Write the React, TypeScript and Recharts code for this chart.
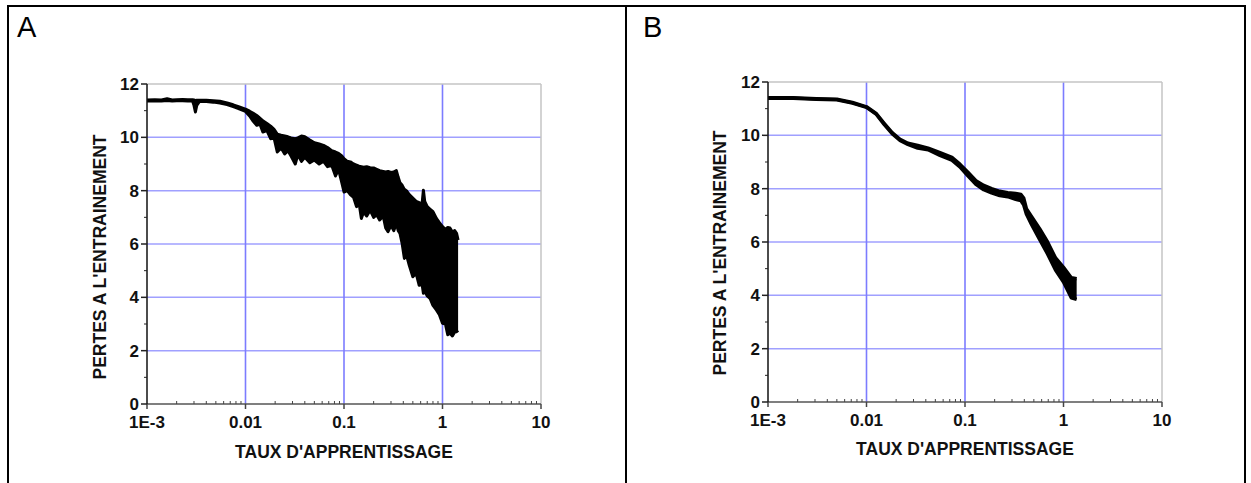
import { Area, CartesianGrid, ComposedChart, ReferenceLine, XAxis, YAxis } from 'recharts'

// Panel A : taux d'apprentissage / pertes (bande bruitée : bord haut et bord bas)
const lrA = [
  0.001, 0.0012, 0.0014, 0.0016, 0.0018, 0.002, 0.0023, 0.0026, 0.0029, 0.003,
  0.0031, 0.0032, 0.0034, 0.004, 0.0047, 0.0055, 0.0065, 0.0075, 0.0085, 0.01,
  0.011, 0.012, 0.013, 0.014, 0.015, 0.0165, 0.018, 0.0195, 0.021, 0.023,
  0.025, 0.027, 0.029, 0.032, 0.034, 0.037, 0.04, 0.045, 0.05, 0.056,
  0.062, 0.068, 0.075, 0.082, 0.088, 0.095, 0.1, 0.108, 0.116, 0.125,
  0.134, 0.142, 0.15, 0.158, 0.17, 0.184, 0.2, 0.215, 0.23, 0.25,
  0.265, 0.28, 0.3, 0.32, 0.34, 0.355, 0.37, 0.39, 0.41, 0.43,
  0.46, 0.5, 0.54, 0.58, 0.62, 0.64, 0.66, 0.7, 0.75, 0.8,
  0.87, 0.93, 1.0, 1.07, 1.13, 1.19, 1.26, 1.33, 1.39, 1.44,
]
const highA = [
  11.4, 11.41, 11.4, 11.45, 11.4, 11.41, 11.42, 11.41, 11.41, 11.4,
  11.38, 11.39, 11.39, 11.39, 11.37, 11.35, 11.29, 11.22, 11.15, 11.06,
  10.98, 10.9, 10.82, 10.72, 10.62, 10.52, 10.42, 10.3, 10.12, 10.08,
  10.05, 10.02, 9.98, 9.95, 9.98, 10.05, 10.02, 9.9, 9.8, 9.75,
  9.7, 9.62, 9.5, 9.45, 9.4, 9.3, 9.2, 9.1, 9.08, 9.0,
  8.96, 8.92, 8.9, 8.88, 8.9, 8.86, 8.85, 8.8, 8.75, 8.72,
  8.7, 8.72, 8.68, 8.7, 8.75, 8.5, 8.3, 8.2, 8.05, 8.0,
  7.85, 7.72, 7.6, 7.55, 7.5, 8.02, 7.6, 7.4, 7.3, 7.21,
  6.95, 6.8, 6.65, 6.55, 6.62, 6.6, 6.45, 6.5, 6.4, 6.15,
]
const lowA = [
  11.36, 11.37, 11.36, 11.38, 11.36, 11.37, 11.37, 11.36, 11.36, 11.2,
  10.95, 11.2, 11.34, 11.34, 11.32, 11.29, 11.23, 11.15, 11.08, 10.97,
  10.8, 10.6, 10.45, 10.5, 10.2, 10.25, 9.95, 9.98, 9.45, 9.6,
  9.38, 9.5, 9.3, 9.0, 9.35, 9.1, 9.25, 9.05, 9.15, 9.0,
  9.1, 8.9, 8.95, 8.55, 8.8, 8.3, 7.95, 8.0, 7.85, 7.75,
  7.4, 7.55, 6.96, 7.2, 7.05, 7.27, 7.0, 7.1, 6.9, 7.05,
  6.6, 6.46, 6.7, 6.5, 6.78, 6.5, 6.4, 6.0, 5.46, 5.6,
  5.2, 4.77, 4.9, 4.45, 4.5, 4.15, 4.25, 4.05, 3.95, 3.7,
  3.52, 3.35, 3.03, 3.0, 2.6, 2.65, 2.55, 2.7, 2.71, 2.76,
]

// Panel B
const lrB = [
  0.001, 0.0018, 0.0031, 0.005, 0.0072, 0.01, 0.0125, 0.0151, 0.0182, 0.0219,
  0.0263, 0.0331, 0.0422, 0.0557, 0.0736, 0.0887, 0.107, 0.129, 0.155, 0.186,
  0.225, 0.272, 0.327, 0.37, 0.394, 0.42, 0.475, 0.572, 0.689, 0.83,
  1.0, 1.2, 1.36,
]
const highB = [
  11.41, 11.41, 11.37, 11.35, 11.23, 11.07, 10.82, 10.45, 10.1, 9.85,
  9.7, 9.62, 9.52, 9.35, 9.17, 8.92, 8.62, 8.3, 8.12, 8.0,
  7.9, 7.85, 7.82, 7.78, 7.65, 7.25, 6.95, 6.5, 6.0, 5.4,
  5.05, 4.66, 4.62,
]
const lowB = [
  11.39, 11.39, 11.35, 11.33, 11.21, 11.05, 10.8, 10.41, 10.06, 9.81,
  9.66, 9.52, 9.46, 9.25, 9.07, 8.82, 8.48, 8.16, 7.96, 7.84,
  7.74, 7.7, 7.6, 7.55, 7.4, 7.05, 6.65, 6.1, 5.55, 4.95,
  4.5, 3.91, 3.85,
]

const xMajor = [0.001, 0.01, 0.1, 1, 10]
const xLabels = ['1E-3', '0.01', '0.1', '1', '10']
const yMajor = [0, 2, 4, 6, 8, 10, 12]

const xTicks: number[] = []
xMajor.forEach((d, i) => {
  xTicks.push(d)
  if (i < xMajor.length - 1) for (let m = 2; m <= 9; m++) xTicks.push(+(d * m).toPrecision(3))
})
const yTicks = Array.from({ length: 13 }, (_, i) => i)

const FONT = "'Liberation Sans', Arial, Helvetica, sans-serif"
const TICK_FONT = 17

function XTick({ x, y, payload }: any) {
  const idx = xMajor.indexOf(payload.value)
  if (idx < 0) {
    return <line x1={x} x2={x} y1={y - 3} y2={y} stroke="#444" strokeWidth={1} />
  }
  return (
    <g>
      <line x1={x} x2={x} y1={y} y2={y + 5} stroke="#444" strokeWidth={1.5} />
      <text x={x} y={y + 24} textAnchor="middle" fontFamily={FONT} fontWeight="bold" fontSize={TICK_FONT} fill="#111">
        {xLabels[idx]}
      </text>
    </g>
  )
}

function YTick({ x, y, payload }: any) {
  const major = yMajor.includes(payload.value)
  if (!major) {
    return <line x1={x - 3} x2={x} y1={y} y2={y} stroke="#222" strokeWidth={1} />
  }
  return (
    <g>
      <line x1={x - 6} x2={x} y1={y} y2={y} stroke="#222" strokeWidth={1.5} />
      <text x={x - 8} y={y + 6} textAnchor="end" fontFamily={FONT} fontWeight="bold" fontSize={TICK_FONT} fill="#111">
        {payload.value}
      </text>
    </g>
  )
}

type PanelProps = {
  lr: number[]
  high: number[]
  low: number[]
  left: number
  width: number
  margin: { top: number; right: number; bottom: number; left: number }
  lineWidth: number
}

function LossPanel({ lr, high, low, left, width, margin, lineWidth }: PanelProps) {
  const data = lr.map((v, i) => ({ lr: v, band: [low[i], high[i]] }))
  return (
    <div style={{ position: 'absolute', left, top: 0 }}>
      <ComposedChart width={width} height={483} data={data} margin={margin}>
        <CartesianGrid vertical={false} horizontalValues={[2, 4, 6, 8, 10]} stroke="#a0a0ff" strokeWidth={1.5} />
        <CartesianGrid horizontal={false} verticalValues={[0.01, 0.1, 1]} stroke="#7c7cff" strokeWidth={1.6} />
        <XAxis
          dataKey="lr"
          type="number"
          scale="log"
          domain={[0.001, 10]}
          allowDataOverflow
          ticks={xTicks}
          interval={0}
          tick={<XTick />}
          tickLine={false}
          tickSize={0}
          tickMargin={0}
          height={30}
          axisLine={{ stroke: '#555', strokeWidth: 1.5 }}
        />
        <YAxis
          type="number"
          domain={[0, 12]}
          ticks={yTicks}
          interval={0}
          tick={<YTick />}
          tickLine={false}
          tickSize={0}
          tickMargin={0}
          width={60}
          axisLine={{ stroke: '#111', strokeWidth: 1.5 }}
        />
        <ReferenceLine y={12} stroke="#c4c4c4" strokeWidth={1.5} />
        <ReferenceLine x={10} stroke="#c4c4c4" strokeWidth={1.5} />
        <Area
          dataKey="band"
          type="linear"
          stroke="#000"
          strokeWidth={lineWidth}
          strokeLinejoin="round"
          fill="#000"
          fillOpacity={1}
          dot={false}
          activeDot={false}
          isAnimationActive={false}
        />
      </ComposedChart>
    </div>
  )
}

export default function App() {
  const titleStyle = { fontFamily: FONT, fontWeight: 'bold' as const, fontSize: 17.5, fill: '#111' }
  return (
    <div style={{ position: 'fixed', left: 0, top: 0, width: 1251, height: 483, background: '#fff', overflow: 'hidden' }}>
      <svg width={1251} height={483} style={{ position: 'absolute', left: 0, top: 0 }}>
        <rect x={8} y={6} width={1237} height={500} fill="none" stroke="#000" strokeWidth={2} />
        <line x1={626} x2={626} y1={6} y2={483} stroke="#000" strokeWidth={2} />
        <text x={17} y={37} fontFamily={FONT} fontSize={29} fill="#000">A</text>
        <text x={643} y={37} fontFamily={FONT} fontSize={29} fill="#000">B</text>
        <text x={344} y={458} textAnchor="middle" {...titleStyle}>TAUX D'APPRENTISSAGE</text>
        <text x={965} y={455} textAnchor="middle" {...titleStyle}>TAUX D'APPRENTISSAGE</text>
        <text transform="translate(106,257) rotate(-90)" textAnchor="middle" {...titleStyle}>PERTES A L'ENTRAINEMENT</text>
        <text transform="translate(726,253) rotate(-90)" textAnchor="middle" {...titleStyle}>PERTES A L'ENTRAINEMENT</text>
      </svg>
      <LossPanel
        lr={lrA}
        high={highA}
        low={lowA}
        left={0}
        width={625}
        margin={{ top: 84, right: 84, bottom: 49, left: 87 }}
        lineWidth={3}
      />
      <LossPanel
        lr={lrB}
        high={highB}
        low={lowB}
        left={625}
        width={626}
        margin={{ top: 82, right: 89, bottom: 51, left: 83 }}
        lineWidth={3.5}
      />
    </div>
  )
}
